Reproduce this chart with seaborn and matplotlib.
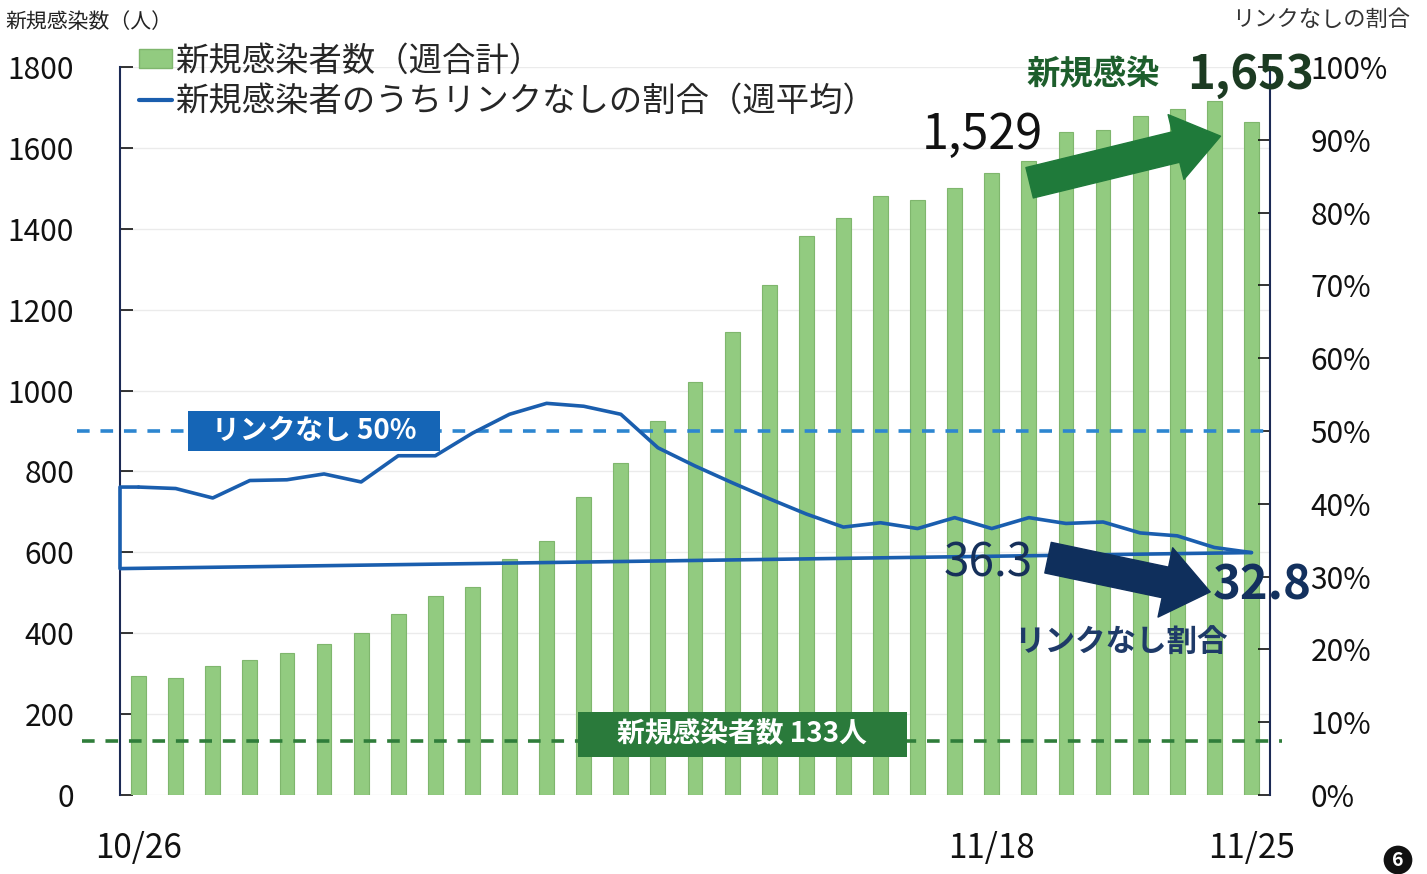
import numpy as np
import pandas as pd
import matplotlib
matplotlib.use("Agg")
import matplotlib.pyplot as plt
import seaborn as sns
from matplotlib.patches import Patch, Rectangle
from matplotlib.lines import Line2D
from matplotlib.ticker import FuncFormatter

# daily categories 10/26 .. 11/25
days = [f"{d.month}/{d.day}" for d in pd.date_range("2020-10-26", "2020-11-25")]
shown_days = ["10/26", "11/18", "11/25"]

# weekly total of new cases (left axis)
cases = [294, 289, 319, 334, 351, 373, 401, 448, 492, 514,
         584, 628, 737, 821, 925, 1021, 1145, 1261, 1382, 1427,
         1481, 1470, 1501, 1538, 1568, 1640, 1644, 1679, 1696, 1716,
         1664]
# weekly average share of cases without known link, % (right axis)
link_pct = [42.3, 42.1, 40.8, 43.2, 43.3, 44.1, 43.0, 46.6, 46.6, 49.7,
            52.3, 53.8, 53.4, 52.3, 47.7, 45.2, 42.9, 40.7, 38.6, 36.8,
            37.4, 36.6, 38.1, 36.6, 38.1, 37.3, 37.5, 36.0, 35.6, 34.0,
            33.3]
link_return_start = 31.1   # where the closing segment meets the left axis

ref_link = 50      # %
ref_cases = 133    # people

df = pd.DataFrame({"day": days, "cases": cases, "link": link_pct})
df["pos"] = np.arange(len(df))

sns.set_theme(style="white")
plt.rcParams["font.family"] = ["Noto Sans CJK JP", "DejaVu Sans"]

bar_green = "#92cb80"
line_blue = "#1a5eae"
navy = "#16305a"
dark_green = "#1f7a3a"

fig = plt.figure(figsize=(14.27, 8.74), dpi=100)
ax = fig.add_axes([120 / 1427, 1 - 795 / 874, 1150 / 1427, 728 / 874])

sns.barplot(data=df, x="day", y="cases", color=bar_green, saturation=1,
            width=0.4, edgecolor="#7fb66d", linewidth=0.8, ax=ax, zorder=2)
ax.set_xlim(-0.5, len(df) - 0.5)
ax.set_ylim(0, 1800)
ax.set_yticks(range(0, 1801, 200))
ax.yaxis.grid(True, color="#ebebeb", lw=1, zorder=0)
ax.set_axisbelow(True)
ax.set_xlabel("")
ax.set_ylabel("")
ax.set_xticks([days.index(d) for d in shown_days])
ax.set_xticklabels(shown_days)
ax.tick_params(axis="x", length=0, pad=26, labelsize=24, colors="#111111")
ax.tick_params(axis="y", direction="in", length=9, width=1.2, pad=33,
               labelsize=21.5, colors="#111111")
for s in ["top", "bottom", "right"]:
    ax.spines[s].set_visible(False)
ax.spines["left"].set_color("#1c2a55")
ax.spines["left"].set_linewidth(1.5)

# 133 people reference
ax.axhline(ref_cases, xmin=-0.033, xmax=1.01, color="#2f7d3a", lw=2.6,
           ls=(0, (3.5, 3)), clip_on=False, zorder=3)
ax.add_patch(Rectangle((0.398, 0.052), 0.286, 0.062, transform=ax.transAxes,
                       facecolor="#2a7a3b", edgecolor="none", zorder=5))
ax.text(0.541, 0.083, f"新規感染者数 {ref_cases}人", transform=ax.transAxes,
        ha="center", va="center", color="white", fontsize=20,
        fontweight="bold", zorder=6)

ax2 = ax.twinx()
sns.lineplot(x=df["pos"], y=df["link"], color=line_blue, lw=2.6, ax=ax2,
             zorder=4)
left_edge = -0.5
ax2.plot([df["pos"].iloc[-1], left_edge, left_edge, df["pos"].iloc[0]],
         [link_pct[-1], link_return_start, link_pct[0], link_pct[0]],
         color=line_blue, lw=2.6, clip_on=False, zorder=4)
ax2.set_ylim(0, 100)
ax2.set_yticks(range(0, 101, 10))
ax2.yaxis.set_major_formatter(FuncFormatter(lambda v, p: f"{v:.0f}%"))
ax2.set_xlim(-0.5, len(df) - 0.5)
ax2.set_ylabel("")
ax2.set_xlabel("")
ax2.tick_params(axis="y", direction="in", length=9, width=1.2, pad=29,
                labelsize=21.5, colors="#111111")
for s in ["top", "bottom", "left"]:
    ax2.spines[s].set_visible(False)
ax2.spines["right"].set_color("#1c2a55")
ax2.spines["right"].set_linewidth(1.5)

# 50% reference
ax2.axhline(ref_link, xmin=-0.037, xmax=1.0, color="#2d86d0", lw=2.6,
            ls=(0, (3.5, 3)), clip_on=False, zorder=3)
ax2.add_patch(Rectangle((0.059, 0.4725), 0.219, 0.055, transform=ax2.transAxes,
                        facecolor="#1565b6", edgecolor="none", zorder=5))
ax2.text(0.169, 0.5, f"リンクなし {ref_link}%", transform=ax2.transAxes,
         ha="center", va="center", color="white", fontsize=20,
         fontweight="bold", zorder=6)

# axis titles
fig.text(5 / 1427, 1 - 22 / 874, "新規感染数（人）", ha="left", va="center",
         fontsize=15, color="#222222")
fig.text(1410 / 1427, 1 - 19 / 874, "リンクなしの割合", ha="right", va="center",
         fontsize=16, color="#333333")

# legend
handles = [Patch(facecolor=bar_green, edgecolor="#7fb66d"),
           Line2D([0], [0], color=line_blue, lw=3)]
labels = ["新規感染者数（週合計）", "新規感染者のうちリンクなしの割合（週平均）"]
fig.legend(handles, labels, loc="upper left", bbox_to_anchor=(122 / 1427, 1 - 27 / 874),
           frameon=False, fontsize=24, borderpad=0, handlelength=1.0,
           handleheight=0.5, handletextpad=0.1, labelspacing=0.15)

# annotations
ax2.text(0.75, 0.907, "1,529", transform=ax2.transAxes, ha="center", va="center",
         fontsize=35, color="#111111", zorder=7)
ax2.text(0.846, 0.989, "新規感染", transform=ax2.transAxes, ha="center",
         va="center", fontsize=24, fontweight="bold", color="#1d5e2c",
         clip_on=False, zorder=7)
ax2.text(0.983, 0.989, "1,653", transform=ax2.transAxes, ha="center",
         va="center", fontsize=34, fontweight="bold", color="#1c3b22",
         clip_on=False, zorder=7)
ax2.annotate("", xy=(0.957, 0.905), xytext=(0.791, 0.841),
             xycoords="axes fraction", textcoords="axes fraction",
             arrowprops=dict(arrowstyle="simple,head_length=1.1,head_width=1.6,tail_width=0.75",
                             mutation_scale=30, color=dark_green, shrinkA=0, shrinkB=0),
             zorder=7)

ax2.text(0.755, 0.319, "36.3", transform=ax2.transAxes, ha="center", va="center",
         fontsize=33, color=navy, zorder=7)
ax2.annotate("", xy=(0.948, 0.279), xytext=(0.807, 0.326),
             xycoords="axes fraction", textcoords="axes fraction",
             arrowprops=dict(arrowstyle="simple,head_length=1.1,head_width=1.7,tail_width=0.75",
                             mutation_scale=30, color="#0f2f5c", shrinkA=0, shrinkB=0),
             zorder=7)
ax2.text(0.993, 0.288, "32.8", transform=ax2.transAxes, ha="center", va="center",
         fontsize=34, fontweight="bold", color="#13315e", clip_on=False, zorder=8)
ax2.text(0.870, 0.209, "リンクなし割合", transform=ax2.transAxes, ha="center",
         va="center", fontsize=22, fontweight="bold", color="#1e3a68", zorder=7)

# page number
fig.text(1398 / 1427, 1 - 860 / 874, "6", ha="center", va="center", fontsize=14,
         fontweight="bold", color="white",
         bbox=dict(boxstyle="circle,pad=0.25", facecolor="#111111", edgecolor="none"))

fig.savefig("out.png", dpi=100)
